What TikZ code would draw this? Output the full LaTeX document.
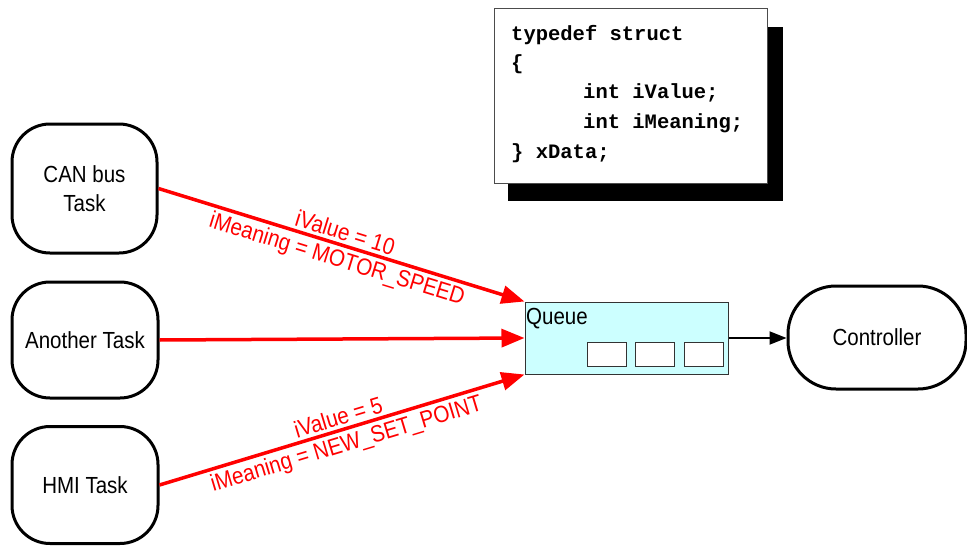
\documentclass[tikz,border=0pt]{standalone}
\usepackage{fontspec}
\setmainfont[FakeStretch=0.88]{Liberation Sans}
\newfontfamily\codefont{Liberation Mono}
\usetikzlibrary{arrows.meta}
\definecolor{qfill}{HTML}{CCFFFF}
\begin{document}
\begin{tikzpicture}[x=1pt,y=-1pt,
  task/.style={draw, line width=3pt, rounded corners=38pt, align=center,
    font=\fontsize{23.3}{29}\selectfont, inner sep=0pt},
  redarrow/.style={draw=red, line width=3.5pt, -{Triangle[length=23pt,width=18pt]}},
  redlabel/.style={text=red, align=center, font=\fontsize{23.5}{27}\selectfont, inner sep=0pt},
  slot/.style={draw=black!80, fill=white, line width=1pt, minimum width=39pt, minimum height=24pt, inner sep=0pt},
  codeline/.style={anchor=base west, inner sep=0pt, font=\codefont\bfseries\fontsize{20.5}{29.5}\selectfont}
]
\useasboundingbox (0,0) rectangle (967,546);

% code box
\node[fill=black, minimum width=275pt, minimum height=174pt, anchor=north west, inner sep=0pt] (shadow) at (508,27) {};
\node[draw=black!70, fill=white, line width=1pt, minimum width=273pt, minimum height=175pt, anchor=north west, inner sep=0pt] (codebox) at (494,8) {};
\node[codeline] (c1) at (511,40) {typedef struct};
\node[codeline] (c2) at (511,69) {\{};
\node[codeline] (c3) at (583,98) {int iValue;};
\node[codeline] (c4) at (583,128) {int iMeaning;};
\node[codeline] (c5) at (511,158) {\} xData;};

% tasks
\node[task, minimum width=145pt, minimum height=129pt] (can) at (84.5,188.5) {CAN bus\\Task};
\node[task, minimum width=146pt, minimum height=116pt] (another) at (85,340) {Another Task};
\node[task, minimum width=146pt, minimum height=117pt] (hmi) at (85,485) {HMI Task};

% queue
\node[draw=black!80, fill=qfill, line width=1pt, minimum width=203pt, minimum height=72pt, inner sep=0pt] (queue) at (626.5,338) {};
\node[anchor=base west, inner sep=0pt, font=\fontsize{23.3}{25}\selectfont] (qlabel) at (526,324) {Queue};
\node[slot] (s1) at (606.5,354) {};
\node[slot] (s2) at (655,354) {};
\node[slot] (s3) at (704,354) {};

% controller
\node[task, rounded corners=48pt, minimum width=178pt, minimum height=103pt] (ctrl) at (877,337.5) {Controller};

% arrows
\draw[redarrow] (can.east) -- (queue.north west)
  node[midway, sloped, redlabel, yshift=-2.5pt] (lab1) {iValue = 10\\iMeaning = MOTOR\_SPEED};
\draw[redarrow] (another.east) -- (queue.west);
\draw[redarrow] (hmi.east) -- (queue.south west)
  node[midway, sloped, redlabel, yshift=-2.5pt] (lab2) {iValue = 5\\iMeaning = NEW\_SET\_POINT};
\draw[line width=2pt, -{Triangle[length=17pt,width=13pt]}] (queue.east) -- (queue.east -| ctrl.west);
\end{tikzpicture}
\end{document}
